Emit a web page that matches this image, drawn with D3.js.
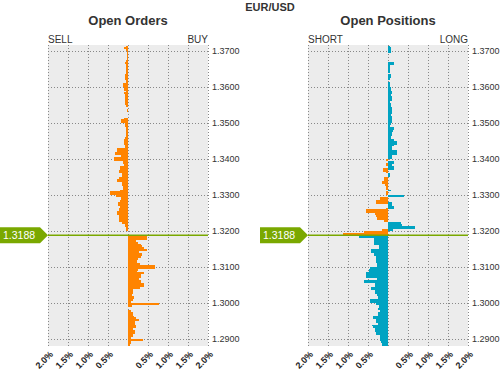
<!DOCTYPE html>
<html>
<head>
<meta charset="utf-8">
<script src="https://cdn.jsdelivr.net/npm/d3@7"></script>
<style>
body { margin: 0; background: #fff; }
text { font-family: "Liberation Sans", Arial, sans-serif; }
</style>
</head>
<body>
<div id="chart"></div>
<script>
const pair = 'EUR/USD';
const currentPrice = 1.3188;
const bucketSize = 0.0005;
const priceTicks = [1.29, 1.30, 1.31, 1.32, 1.33, 1.34, 1.35, 1.36, 1.37];
const pctTicks = [-2, -1.5, -1, -0.5, 0.5, 1, 1.5, 2];

// open orders, % per 5-pip bucket, listed from the top price downwards
const sellTop = 1.3715;
const sellOrders = [
  0.05, 0.10, 0.04, 0.02, 0.03, 0.03, 0.03, 0.03, 0.04, 0.075,
  0.06, 0.06, 0.04, 0.04, 0.04, 0.04, 0.075, 0.075, 0.075, 0.06,
  0.06, 0.125, 0.125, 0.09, 0.09, 0.05, 0.10, 0.07, 0.07, 0.07,
  0.07, 0.075, 0.075, 0.04, 0, 0.03, 0.03, 0.01, 0.01, 0,
  0.10, 0.175, 0.175, 0.075, 0.075, 0.05, 0.05, 0.05, 0.05, 0.05,
  0.05, 0.075, 0.10, 0.10, 0.10, 0.075, 0.075, 0.275, 0.275, 0.325,
  0.325, 0.175, 0.36, 0.36, 0.125, 0.125, 0.10, 0.20, 0.20, 0.225,
  0.225, 0.16, 0.16, 0.225, 0.275, 0.275, 0.16, 0.16, 0.125, 0.125,
  0.20, 0.46, 0.46, 0.30, 0.175, 0.175, 0.20, 0.25, 0.25, 0.20,
  0.225, 0.225, 0.275, 0.275, 0.225, 0.225, 0.225, 0.225, 0.15, 0.075,
  0.075, 0.05, 0.05
];
const buyTop = 1.3185;
const buyOrders = [
  0.467, 0.467, 0.19, 0.25, 0.32, 0.35, 0.40, 0.467, 0.28, 0.34,
  0.34, 0.32, 0.26, 0.23, 0.23, 0.30, 0.675, 0.675, 0.24, 0.22,
  0.40, 0.325, 0.325, 0.275, 0.32, 0.32, 0.39, 0.39, 0.30, 0.125,
  0.125, 0.117, 0.09, 0.14, 0.14, 0.12, 0.07, 0.77, 0.09, 0,
  0, 0.07, 0.13, 0.13, 0.15, 0.20, 0.275, 0.175, 0.175, 0.20,
  0.20, 0.13, 0.175, 0.175, 0.13, 0.13, 0.07, 0.37, 0.07, 0.07,
  0.05
];

// open positions
const longTop = 1.3715;
const longPositions = [
  0.04, 0.08, 0.08, 0.08, 0, 0, 0, 0, 0, 0.14,
  0.14, 0.06, 0.06, 0.06, 0.06, 0, 0.08, 0.08, 0.06, 0,
  0.05, 0.05, 0.05, 0.08, 0.08, 0.11, 0.11, 0.07, 0.11, 0.11,
  0.09, 0.04, 0.08, 0.08, 0.11, 0.11, 0.09, 0.09, 0.075, 0.11,
  0.11, 0.09, 0.09, 0.075, 0.06, 0.14, 0.14, 0.12, 0.09, 0.09,
  0.075, 0.075, 0.16, 0.22, 0.22, 0.15, 0.11, 0.11, 0.22, 0.22,
  0.22, 0.09, 0.09, 0, 0.16, 0.16, 0.10, 0.14, 0.14, 0,
  0, 0.06, 0.06, 0, 0, 0, 0, 0, 0, 0,
  0.07, 0, 0, 0.39, 0, 0, 0, 0.11, 0.11, 0.14,
  0.14, 0, 0, 0, 0, 0, 0, 0, 0.32, 0.36,
  0.67, 0.67, 0.125
];
const shortTop = 1.3400;
const shortPositions = [
  0.06, 0, 0.04, 0.04, 0, 0.125, 0.125, 0.06, 0, 0,
  0.10, 0.10, 0.16, 0.16, 0.075, 0.06, 0.06, 0, 0.06, 0.06,
  0, 0.21, 0.21, 0.31, 0.31,
  0, 0, 0.06, 0.56, 0.56, 0.33, 0.29, 0.275, 0.275, 0.11,
  0, 0, 0, 0, 0.14, 0.60, 1.125,
  1.06, 0.73, 0.36, 0.36, 0.36, 0.36, 0.225, 0.225, 0.42, 0.43,
  0.36, 0.36, 0.29, 0.29, 0.31, 0.31, 0.275, 0.275, 0.46, 0.48,
  0.48, 0.54, 0.56, 0.56, 0.275, 0.61, 0.61, 0.33, 0.33, 0.42,
  0.42, 0.33, 0.33, 0.275, 0.25, 0.25, 0.46, 0.46, 0.31, 0.225,
  0.225, 0.25, 0.19, 0.25, 0.25, 0.375, 0.375, 0.31, 0.31, 0.25,
  0.39, 0.375, 0.33, 0.33, 0.31, 0.31, 0.21, 0.19, 0.19, 0.17,
  0.14, 0.14
];

const orange = '#ff8400';
const blue = '#00a3c2';
const green = '#7aa800';
const W = 500, H = 370;
const plotTop = 45, plotBottom = 346, plotWidth = 160;

function buckets(top, values) {
  return values.map((v, i) => ({ top: top - i * bucketSize, value: v }));
}

const y = d3.scaleLinear().domain([1.29, 1.37]).range([339, 51]);

const svg = d3.select('#chart').append('svg')
    .attr('width', W)
    .attr('height', H);

svg.append('text')
    .attr('x', 270)
    .attr('y', 11)
    .attr('text-anchor', 'middle')
    .attr('font-weight', 'bold')
    .attr('font-size', 11)
    .attr('fill', '#333')
    .text(pair);

function panel(cfg) {
    const x = d3.scaleLinear().domain([-2, 2]).range([cfg.left, cfg.left + plotWidth]);
    const g = svg.append('g');

    g.append('rect')
        .attr('x', x(-2))
        .attr('y', plotTop)
        .attr('width', x(2) - x(-2))
        .attr('height', plotBottom - plotTop)
        .attr('fill', '#ececec');

    // dotted grid
    g.append('g').selectAll('line')
        .data(d3.range(-2, 2.01, 0.5))
        .join('line')
        .attr('x1', d => Math.round(x(d)) + 0.5)
        .attr('x2', d => Math.round(x(d)) + 0.5)
        .attr('y1', plotTop)
        .attr('y2', plotBottom)
        .attr('stroke', '#888')
        .attr('stroke-dasharray', '1,2');

    g.append('g').selectAll('line')
        .data(priceTicks)
        .join('line')
        .attr('x1', x(-2))
        .attr('x2', x(2))
        .attr('y1', d => Math.round(y(d)) + 0.5)
        .attr('y2', d => Math.round(y(d)) + 0.5)
        .attr('stroke', '#888')
        .attr('stroke-dasharray', '1,2');

    // bars
    cfg.series.forEach(s => {
        g.append('g').selectAll('rect')
            .data(s.data.filter(d => d.value > 0))
            .join('rect')
            .attr('x', d => s.side < 0 ? x(-d.value) : x(0))
            .attr('width', d => x(d.value) - x(0))
            .attr('y', d => y(d.top))
            .attr('height', d => y(d.top - bucketSize) - y(d.top))
            .attr('fill', d => s.color(d))
            .attr('shape-rendering', 'crispEdges');
    });

    // current price line and tag
    const py = y(currentPrice);
    g.append('line')
        .attr('x1', x(-2))
        .attr('x2', x(2))
        .attr('y1', py)
        .attr('y2', py)
        .attr('stroke', green)
        .attr('stroke-width', 1.6);

    const tip = x(-2);
    g.append('polygon')
        .attr('points', [
            [tip - 48, py - 8], [tip - 8, py - 8], [tip, py],
            [tip - 8, py + 8], [tip - 48, py + 8]
        ].map(p => p.join(',')).join(' '))
        .attr('fill', green);
    g.append('text')
        .attr('x', tip - 45)
        .attr('y', py + 4)
        .attr('font-size', 10.5)
        .attr('fill', '#fff')
        .text(currentPrice.toFixed(4));

    // axes
    const ya = g.append('g')
        .attr('transform', 'translate(' + x(2) + ',0)')
        .call(d3.axisRight(y).tickValues(priceTicks).tickSize(0).tickPadding(4)
            .tickFormat(d3.format('.4f')));
    ya.select('.domain').remove();
    ya.selectAll('text').attr('font-size', 9).attr('fill', '#333')
        .attr('font-family', '"Liberation Sans", Arial, sans-serif');

    const xa = g.append('g')
        .attr('transform', 'translate(0,' + plotBottom + ')')
        .call(d3.axisBottom(x).tickValues(pctTicks).tickSize(0)
            .tickFormat(d => Math.abs(d).toFixed(1) + '%'));
    xa.select('.domain').remove();
    xa.selectAll('text')
        .attr('x', 0)
        .attr('y', 0)
        .attr('dy', '0.35em')
        .attr('transform', 'translate(3,6.5) rotate(-45)')
        .attr('text-anchor', 'end')
        .attr('font-size', 9)
        .attr('font-weight', 'bold')
        .attr('fill', '#222')
        .attr('font-family', '"Liberation Sans", Arial, sans-serif');

    // titles
    g.append('text')
        .attr('x', x(0))
        .attr('y', 25)
        .attr('text-anchor', 'middle')
        .attr('font-family', '"DejaVu Sans", Verdana, sans-serif')
        .attr('font-weight', 'bold')
        .attr('font-size', 13)
        .attr('fill', '#333')
        .text(cfg.title);
    g.append('text')
        .attr('x', x(-2))
        .attr('y', 42.5)
        .attr('font-size', 10)
        .attr('fill', '#333')
        .text(cfg.leftLabel);
    g.append('text')
        .attr('x', x(2))
        .attr('y', 42.5)
        .attr('text-anchor', 'end')
        .attr('font-size', 10)
        .attr('fill', '#333')
        .text(cfg.rightLabel);
}

const above = d => d.top - bucketSize / 2 > currentPrice;

panel({
    left: 48,
    title: 'Open Orders',
    leftLabel: 'SELL',
    rightLabel: 'BUY',
    series: [
        { side: -1, data: buckets(sellTop, sellOrders), color: () => orange },
        { side: 1, data: buckets(buyTop, buyOrders), color: () => orange }
    ]
});

panel({
    left: 308,
    title: 'Open Positions',
    leftLabel: 'SHORT',
    rightLabel: 'LONG',
    series: [
        { side: 1, data: buckets(longTop, longPositions), color: d => above(d) ? blue : orange },
        { side: -1, data: buckets(shortTop, shortPositions), color: d => above(d) ? orange : blue }
    ]
});
</script>
</body>
</html>
